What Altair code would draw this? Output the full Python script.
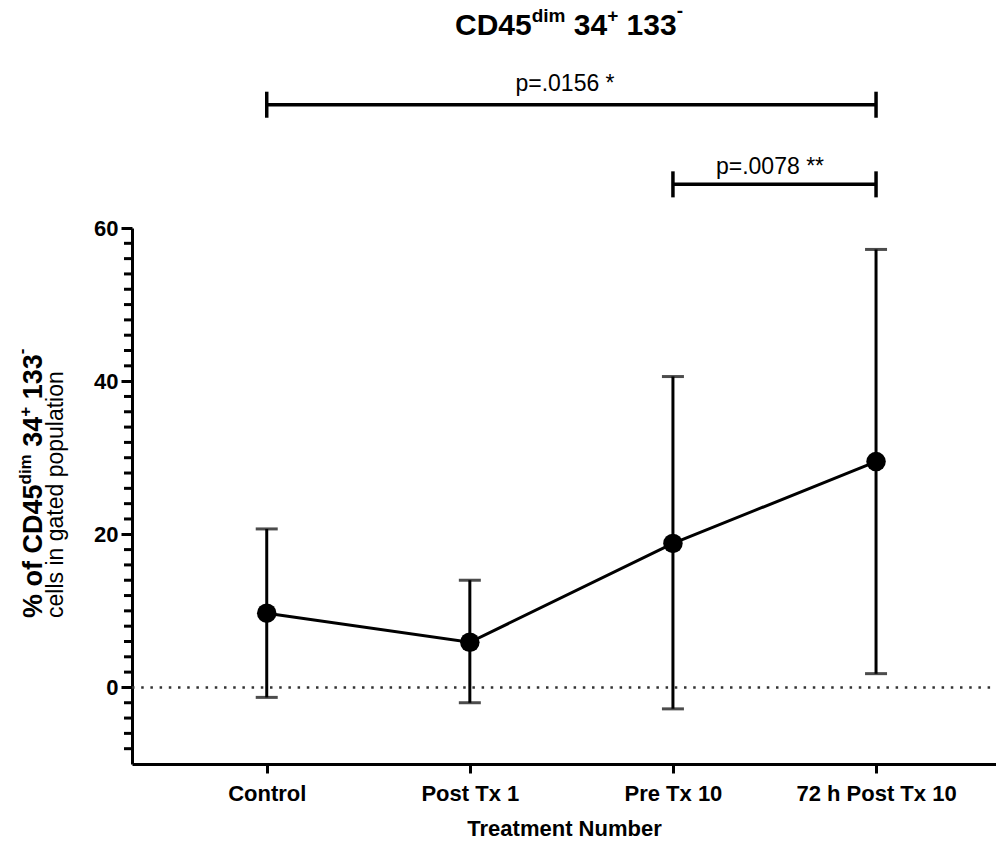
import altair as alt
import pandas as pd

# ---------------- data ----------------
categories = ["Control", "Post Tx 1", "Pre Tx 10", "72 h Post Tx 10"]
mean_pct = [9.7, 5.9, 18.8, 29.5]
upper_pct = [20.7, 14.0, 40.6, 57.2]
lower_pct = [-1.3, -2.0, -2.8, 1.8]

y_major = [0, 20, 40, 60]
y_minor = [v for v in range(-8, 60, 2) if v % 20 != 0]

bracket_start = ["Control", "Pre Tx 10"]
bracket_end = ["72 h Post Tx 10", "72 h Post Tx 10"]
bracket_level = [76.1, 65.7]
bracket_text = ["p=.0156 *", "p=.0078 **"]

# ---------------- layout ----------------
W, H = 864, 536
FONT = "Liberation Sans"
BLACK = "#000000"

BOLD_W = {'C': 722, 'D': 722, '4': 556, '5': 556, 'd': 611, 'i': 278, 'm': 889,
          ' ': 278, '3': 556, '+': 584, '1': 556, '-': 333, '%': 889, 'o': 611, 'f': 333}


def text_w(s, size):
    return sum(BOLD_W[c] for c in s) * size / 1000.0


df = pd.DataFrame({"cat": categories, "mean": mean_pct, "lo": lower_pct, "hi": upper_pct})
minor_df = pd.DataFrame({"v": y_minor})
zero_df = pd.DataFrame({"z": [0]})
br_df = pd.DataFrame({"cat": bracket_start, "end": bracket_end, "level": bracket_level})
tick_half = 1.7
br_ticks = pd.DataFrame({
    "cat": bracket_start + bracket_end,
    "lo": [l - tick_half for l in bracket_level] * 2,
    "hi": [l + tick_half for l in bracket_level] * 2,
})
one = pd.DataFrame({"k": [0]})

xscale = alt.Scale(type="point", domain=categories, padding=0.627, align=0.529)
yscale = alt.Scale(domain=[-10, 60], nice=False, zero=False)

xaxis = alt.Axis(title="Treatment Number", titleFont=FONT, titleFontSize=22, titleFontWeight="bold",
                 titleColor=BLACK, titlePadding=14,
                 labelFont=FONT, labelFontSize=22, labelFontWeight="bold", labelColor=BLACK,
                 labelPadding=10, labelAngle=0,
                 domainColor=BLACK, domainWidth=3, tickColor=BLACK, tickWidth=3, tickSize=9,
                 grid=False)
yaxis = alt.Axis(title=None, values=y_major, labelFont=FONT, labelFontSize=22, labelFontWeight="bold",
                 labelColor=BLACK, labelPadding=3, domainColor=BLACK, domainWidth=3,
                 tickColor=BLACK, tickWidth=3, tickSize=11, grid=False)

X = lambda f: alt.X(f, type="nominal", scale=xscale, axis=xaxis)
Y = lambda f: alt.Y(f, type="quantitative", scale=yscale, axis=yaxis)

zero_line = alt.Chart(zero_df).mark_rule(color="#333333", strokeWidth=2.5, strokeDash=[2.5, 6.7]).encode(
    y=Y("z"), x=alt.value(0), x2=alt.value(W))

minor = alt.Chart(minor_df).mark_rule(color=BLACK, strokeWidth=3).encode(
    y=Y("v"), x=alt.value(-8), x2=alt.value(0))

err = alt.Chart(df).mark_rule(color=BLACK, strokeWidth=3).encode(x=X("cat"), y=Y("lo"), y2="hi")
cap_hi = alt.Chart(df).mark_tick(color=BLACK, size=22, thickness=3).encode(x=X("cat"), y=Y("hi"))
cap_lo = alt.Chart(df).mark_tick(color=BLACK, size=22, thickness=3).encode(x=X("cat"), y=Y("lo"))
line = alt.Chart(df).mark_line(color=BLACK, strokeWidth=3).encode(x=X("cat"), y=Y("mean"))
pts = alt.Chart(df).mark_point(filled=True, color=BLACK, size=380, opacity=1).encode(x=X("cat"), y=Y("mean"))

br_line = alt.Chart(br_df).mark_rule(color=BLACK, strokeWidth=3.5).encode(x=X("cat"), x2="end", y=Y("level"))
br_end = alt.Chart(br_ticks).mark_rule(color=BLACK, strokeWidth=3.5).encode(x=X("cat"), y=Y("lo"), y2="hi")


def seg(s, x, y, size, bold=True, angle=0, align="left"):
    kw = dict(text=s, font=FONT, fontSize=size, fontWeight="bold" if bold else "normal",
              align=align, baseline="alphabetic", color=BLACK)
    if angle:
        kw["angle"] = angle
    return alt.Chart(one).mark_text(**kw).encode(x=alt.value(x), y=alt.value(y))


texts = []
# Title: CD45^dim 34^+ 133^-
F, f = 30, 19
title_parts = [("CD45", F, 0), ("dim", f, 13), (" 34", F, 0), ("+", f, 13), (" 133", F, 0), ("-", f, 18)]
total = sum(text_w(s, sz) for s, sz, _ in title_parts)
cx = 437 - total / 2
base = -193
for s, sz, up in title_parts:
    lead = len(s) - len(s.lstrip(" "))
    cx += text_w(" " * lead, sz)
    core = s.strip(" ")
    texts.append(seg(core, cx, base - up, sz))
    cx += text_w(core, sz)

# Y title line 1 (rotated)
F1, f1 = 27, 17
yparts = [("% of CD45", F1, 0), ("dim", f1, 11), (" 34", F1, 0), ("+", f1, 11), (" 133", F1, 0), ("-", f1, 15)]
cy = 390
bx = -90
for s, sz, up in yparts:
    lead = len(s) - len(s.lstrip(" "))
    cy -= text_w(" " * lead, sz)
    core = s.strip(" ")
    texts.append(seg(core, bx - up, cy, sz, angle=270))
    cy -= text_w(core, sz)

# Y title line 2
texts.append(seg("cells in gated population", -69, 390, 23, bold=False, angle=270))

# bracket labels
texts.append(seg(bracket_text[0], 433, -137, 23, bold=False, align="center"))
texts.append(seg(bracket_text[1], 638, -54, 23, bold=False, align="center"))

chart = alt.layer(zero_line, err, cap_hi, cap_lo, line, pts, br_line, br_end, minor, *texts).properties(
    width=W, height=H,
    autosize=alt.AutoSizeParams(type="none"),
    padding={"left": 124, "top": 220, "right": 0, "bottom": 74},
).configure_view(stroke=None, strokeWidth=0)

chart.save("out.html", embed_options={"renderer": "svg", "actions": False})
